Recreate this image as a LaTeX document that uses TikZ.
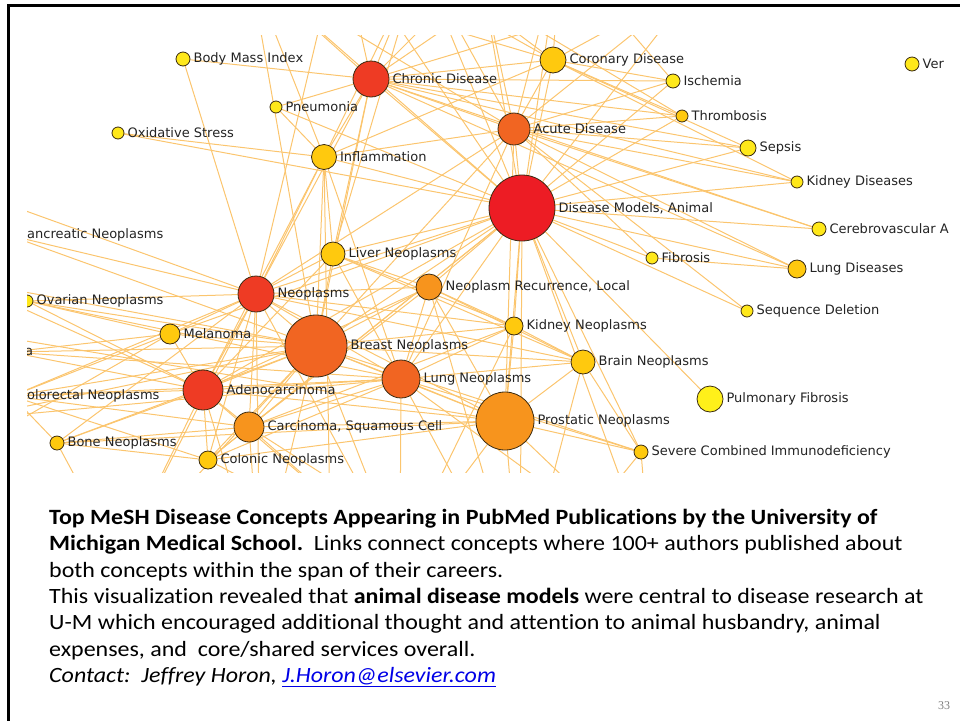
\documentclass[tikz,border=0pt]{standalone}
\usepackage{fontspec}
\setmainfont{Carlito}[Ligatures=NoCommon]
\newfontfamily\capfont{Carlito}[Ligatures=NoCommon, FakeStretch=1.1]
\newfontfamily\netfont{DejaVu Sans}
\newfontfamily\numfont{Liberation Serif}
\usetikzlibrary{calc}
\pgfdeclarelayer{bg}
\pgfsetlayers{bg,main}
\definecolor{cred}{HTML}{ED1C24}
\definecolor{credor}{HTML}{EE3B24}
\definecolor{corng}{HTML}{F16522}
\definecolor{clorng}{HTML}{F7941D}
\definecolor{cgold}{HTML}{FFC90E}
\definecolor{cyel}{HTML}{FFE81A}
\definecolor{cbyel}{HTML}{FFF01A}
\definecolor{cedge}{HTML}{FBC56E}
\definecolor{coutl}{HTML}{3A2A10}
\definecolor{clink}{HTML}{0000E6}
\tikzset{
  nd/.style={circle, draw=coutl, line width=0.8pt, inner sep=0pt},
  lbl/.style={font=\netfont\fontsize{13}{15}\selectfont, text={rgb,255:red,35;green,35;blue,35}, inner sep=0pt, anchor=west},
  edge/.style={draw=cedge, line width=1pt},
  captxt/.style={font=\capfont\fontsize{21.8}{24}\selectfont, anchor=base west, inner sep=0pt},
}
\newcommand\netnode[6]{%
  \node[nd, minimum size=#4pt, fill=#5] (#1) at (#2,#3) {};
  \node[lbl] (#1l) at ([xshift=3pt]#1.east) {#6};
}
\begin{document}
\begin{tikzpicture}[x=1pt,y=-1pt]
\useasboundingbox (0,0) rectangle (960,721);
% frame
\draw[line width=3pt] (960,5.5) -- (8.5,5.5) -- (8.5,721);
% off-screen endpoints
\coordinate (t1) at (250,-30);
\coordinate (t2) at (420,-40);
\coordinate (t3) at (560,-50);
\coordinate (t4) at (700,-20);
\coordinate (t5) at (340,-60);
\coordinate (t6) at (480,-30);
\coordinate (b1) at (120,560);
\coordinate (b2) at (260,580);
\coordinate (b3) at (400,560);
\coordinate (b4) at (520,600);
\coordinate (b5) at (650,560);
\coordinate (b6) at (330,520);
\coordinate (l1) at (-60,180);
\coordinate (l2) at (-50,460);
\coordinate (l3) at (-40,280);
\coordinate (l4) at (-40,420);
\coordinate (l5) at (-40,330);
\coordinate (pan) at (8,235);
\coordinate (cre) at (12,396);
\coordinate (lea) at (10,352);
\begin{scope}
\clip (27,35) rectangle (948,472);
\netnode{bmi}{183}{59}{14}{cyel}{Body Mass Index}
\netnode{chr}{371}{79}{36}{credor}{Chronic Disease}
\netnode{cor}{553}{60}{26}{cgold}{Coronary Disease}
\netnode{isc}{673}{81}{14}{cyel}{Ischemia}
\netnode{ver}{912}{64}{14}{cyel}{Ver}
\netnode{pne}{276}{107}{12}{cyel}{Pneumonia}
\netnode{thr}{682}{116}{12}{cgold}{Thrombosis}
\netnode{acu}{514}{129}{32}{corng}{Acute Disease}
\netnode{oxi}{118}{133}{12}{cyel}{Oxidative Stress}
\netnode{inf}{324}{157}{25}{cgold}{Inflammation}
\netnode{sep}{748}{148}{16}{cyel}{Sepsis}
\netnode{kid}{797}{182}{12}{cyel}{Kidney Diseases}
\netnode{dma}{522}{208}{66}{cred}{Disease Models, Animal}
\netnode{cer}{819}{229}{14}{cyel}{Cerebrovascular A}
\netnode{liv}{333}{254}{24}{cgold}{Liver Neoplasms}
\netnode{fib}{652}{258}{12}{cyel}{Fibrosis}
\netnode{lud}{797}{269}{18}{cgold}{Lung Diseases}
\netnode{neo}{256}{294}{36}{credor}{Neoplasms}
\netnode{nrl}{429}{287}{26}{clorng}{Neoplasm Recurrence, Local}
\netnode{ova}{27}{301}{12}{cyel}{Ovarian Neoplasms}
\netnode{seq}{747}{311}{12}{cyel}{Sequence Deletion}
\netnode{mel}{170}{334}{20}{cgold}{Melanoma}
\netnode{kne}{514}{326}{18}{cgold}{Kidney Neoplasms}
\netnode{bre}{316}{346}{62}{corng}{Breast Neoplasms}
\netnode{brn}{583}{362}{24}{cgold}{Brain Neoplasms}
\netnode{lun}{401}{379}{38}{corng}{Lung Neoplasms}
\netnode{ade}{203}{390}{40}{credor}{Adenocarcinoma}
\netnode{pul}{710}{399}{26}{cbyel}{Pulmonary Fibrosis}
\netnode{pro}{505}{421}{58}{clorng}{Prostatic Neoplasms}
\netnode{car}{249}{427}{30}{clorng}{Carcinoma, Squamous Cell}
\netnode{bon}{57}{443}{14}{cgold}{Bone Neoplasms}
\netnode{sci}{641}{452}{14}{cgold}{Severe Combined Immunodeficiency}
\netnode{col}{208}{460}{18}{cgold}{Colonic Neoplasms}
\node[lbl] (panl) at (27,235) {ancreatic Neoplasms};
\node[lbl] (crel) at (27,396) {olorectal Neoplasms};
\node[lbl] (leal) at (25,352) {a};
\end{scope}
\begin{pgfonlayer}{bg}
\begin{scope}
\clip (27,35) rectangle (948,472);
\foreach \a/\b in {dma/chr, dma/acu, dma/cor, dma/isc, dma/thr, dma/sep, dma/kid, dma/cer, dma/fib, dma/lud, dma/seq, dma/pul, dma/sci, dma/brn, dma/kne, dma/pro, dma/lun, dma/bre, dma/nrl, dma/liv, dma/neo, dma/inf, dma/oxi, dma/pne, dma/ade, dma/car, dma/mel, dma/col, dma/t2, dma/t3, dma/t4, dma/b4, dma/b5, dma/t1, dma/t5, dma/t6,
chr/acu, chr/cor, chr/inf, chr/bmi, chr/pne, chr/isc, chr/thr, chr/sep, chr/kid, chr/cer, chr/lud, chr/neo, chr/liv, chr/bre, chr/t1, chr/t2, chr/t5, chr/t3, chr/t4, chr/t6,
acu/cor, acu/inf, acu/isc, acu/thr, acu/sep, acu/kid, acu/cer, acu/lud, acu/fib, acu/neo, acu/bre, acu/lun, acu/pro, acu/t3, acu/t4, acu/seq, acu/t1, acu/t2, acu/t6,
cor/isc, cor/thr, cor/inf, cor/t3, cor/t4, cor/t1, cor/t2, cor/t5, cor/sep, cor/kid,
inf/neo, inf/liv, inf/bre, inf/oxi, inf/pne, inf/lun, inf/b6, inf/ade, inf/t1, inf/t2,
bmi/neo, liv/t2, neo/t5, bre/t1, isc/t3, thr/t2,
neo/liv, neo/nrl, neo/bre, neo/lun, neo/pro, neo/ade, neo/car, neo/mel, neo/col, neo/bon, neo/pan, neo/ova, neo/cre, neo/kne, neo/brn, neo/b1, neo/b2, neo/l1, neo/b3,
nrl/bre, nrl/lun, nrl/pro, nrl/kne, nrl/brn, nrl/liv, nrl/ade, nrl/car, nrl/b4,
bre/lun, bre/pro, bre/ade, bre/car, bre/col, bre/mel, bre/kne, bre/brn, bre/liv, bre/cre, bre/ova, bre/b2, bre/b3, bre/sci, bre/lea, bre/b1, bre/l3, bre/l4, bre/pan, bre/bon,
lun/pro, lun/ade, lun/car, lun/kne, lun/brn, lun/col, lun/sci, lun/b3, lun/b4, lun/liv, lun/b5, lun/l4, lun/ova, lun/cre, lun/lea,
pro/ade, pro/car, pro/kne, pro/brn, pro/sci, pro/col, pro/b4, pro/b5, pro/bon, pro/b3, pro/l5,
ade/car, ade/col, ade/mel, ade/cre, ade/bon, ade/lea, ade/b1, ade/b2, ade/liv, ade/b3, ade/l3, ade/ova,
car/col, car/bon, car/b2, car/b3, car/kne, car/b4, car/cre,
brn/kne, brn/sci, brn/liv, brn/b4, mel/ova, mel/cre, mel/lea, mel/l2, bon/cre, bon/col, bon/b1, kne/liv, kne/b3, lud/fib, sci/b5, sci/b4, pan/lea, cre/col, col/b3}
  \draw[edge] (\a) -- (\b);
\end{scope}
\end{pgfonlayer}
% caption
\node[captxt] (cap1) at (49,524) {\textbf{Top MeSH Disease Concepts Appearing in PubMed Publications by the University of}};
\node[captxt] (cap2) at (49,550.5) {\textbf{Michigan Medical School.}\ \ Links connect concepts where 100+ authors published about};
\node[captxt] (cap3) at (49,577) {both concepts within the span of their careers.};
\node[captxt] (cap4) at (49,603) {This visualization revealed that \textbf{animal disease models} were central to disease research at};
\node[captxt] (cap5) at (49,629.5) {U-M which encouraged additional thought and attention to animal husbandry, animal};
\node[captxt] (cap6) at (49,656) {expenses, and\ \ core/shared services overall.};
\node[captxt] (cap7) at (49,682) {\textit{Contact:\ \ Jeffrey Horon, \textcolor{clink}{\underline{J.Horon@elsevier.com}}}};
\node[font=\numfont\fontsize{12}{14}\selectfont, text=gray, inner sep=0pt] (pnum) at (944,706) {33};
\end{tikzpicture}
\end{document}
